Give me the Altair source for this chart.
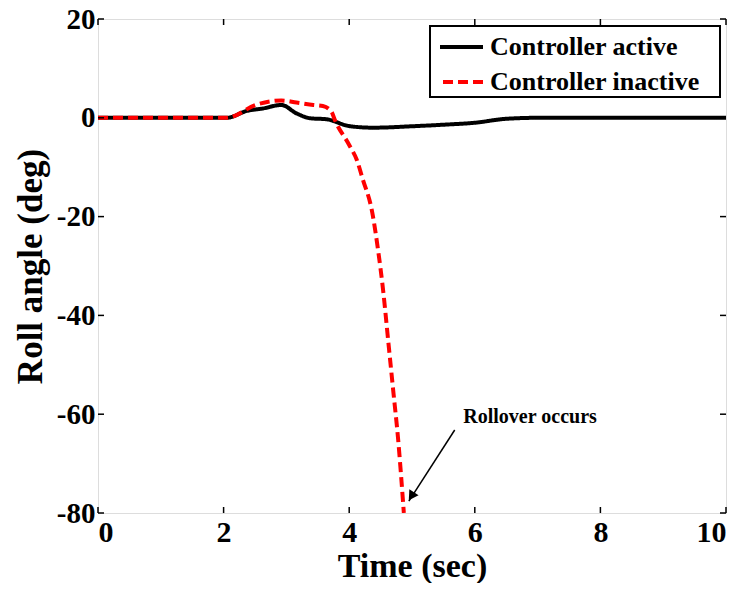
import altair as alt
import pandas as pd

# ---- data ----
t_active = [0, 2.05, 2.37, 2.63, 2.92, 3.16, 3.38, 3.64, 4.01, 4.38, 5.02, 5.5, 6.0, 6.5, 7, 8, 10]
roll_active = [0, 0, 1.4, 1.9, 2.6, 0.9, -0.1, -0.3, -1.7, -2.0, -1.7, -1.4, -1.0, -0.2, 0, 0, 0]

t_inactive = [0, 2.05, 2.53, 2.92, 3.16, 3.43, 3.58, 3.72, 3.77, 4.0, 4.12, 4.22, 4.36, 4.46,
              4.54, 4.62, 4.70, 4.78, 4.87]
roll_inactive = [0, 0, 2.7, 3.5, 3.1, 2.6, 2.4, 1.2, -0.4, -5.5, -8.5, -12.6, -18.7, -26.8,
                 -34.9, -45, -55.1, -65.2, -80]

series_names = ["Controller active", "Controller inactive"]
series_colors = ["black", "red"]
series_dash = [[1, 0], [10, 5]]

x_ticks = [0, 2, 4, 6, 8, 10]
y_ticks = [20, 0, -20, -40, -60, -80]

note_text = ["Rollover occurs"]
note_t = [6.88]
note_y = [-60.6]
arrow_t = [5.68]
arrow_y = [-63.2]
arrow_t2 = [4.95]
arrow_y2 = [-77.6]
head_t = [4.99]
head_y = [-76.6]

W, H = 628, 494
FONT = "Liberation Serif"
MINUS_FIX = "(datum.value < 0 ? '-' : '') + format(abs(datum.value), 'd')"

df = pd.concat([
    pd.DataFrame({"t": t_active, "roll": roll_active, "series": series_names[0]}),
    pd.DataFrame({"t": t_inactive, "roll": roll_inactive, "series": series_names[1]}),
])

xs = alt.Scale(domain=[0, 10], nice=False, zero=False)
ys = alt.Scale(domain=[-80, 20], nice=False, zero=False)
cs = alt.Scale(domain=series_names, range=series_colors)
ds = alt.Scale(domain=series_names, range=series_dash)

lines = alt.Chart(df).mark_line(strokeWidth=4, interpolate="monotone", clip=True).encode(
    x=alt.X("t:Q", scale=xs,
            axis=alt.Axis(values=x_ticks, title="Time (sec)", ticks=False, domain=False, grid=False,
                          labelExpr=MINUS_FIX,
                          labelFont=FONT, labelFontWeight="bold", labelFontSize=30, labelColor="black",
                          labelPadding=4, titleFont=FONT, titleFontWeight="bold", titleFontSize=34,
                          titleColor="black", titlePadding=2)),
    y=alt.Y("roll:Q", scale=ys,
            axis=alt.Axis(values=y_ticks, title="Roll angle (deg)", ticks=False, domain=False, grid=False,
                          labelExpr=MINUS_FIX,
                          labelFont=FONT, labelFontWeight="bold", labelFontSize=29, labelColor="black",
                          labelPadding=3, titleFont=FONT, titleFontWeight="bold", titleFontSize=35,
                          titleColor="black", titlePadding=8)),
    color=alt.Color("series:N", scale=cs, sort=series_names, legend=None),
    strokeDash=alt.StrokeDash("series:N", scale=ds, sort=series_names, legend=None),
)

tick_x = pd.DataFrame({"t": x_ticks})
tick_y = pd.DataFrame({"roll": y_ticks})
bottom_ticks = alt.Chart(tick_x).mark_rule(color="black", strokeWidth=1.5).encode(
    x=alt.X("t:Q", scale=xs), y=alt.value(H), y2=alt.value(H - 6))
top_ticks = alt.Chart(tick_x).mark_rule(color="black", strokeWidth=1.5).encode(
    x=alt.X("t:Q", scale=xs), y=alt.value(0), y2=alt.value(6))
left_ticks = alt.Chart(tick_y).mark_rule(color="black", strokeWidth=1.5).encode(
    y=alt.Y("roll:Q", scale=ys), x=alt.value(0), x2=alt.value(6))
right_ticks = alt.Chart(tick_y).mark_rule(color="black", strokeWidth=1.5).encode(
    y=alt.Y("roll:Q", scale=ys), x=alt.value(W), x2=alt.value(W - 6))

note_df = pd.DataFrame({"t": note_t, "roll": note_y, "label": note_text})
note = alt.Chart(note_df).mark_text(font=FONT, fontWeight="bold", fontSize=20, color="black").encode(
    x=alt.X("t:Q", scale=xs), y=alt.Y("roll:Q", scale=ys), text="label:N")

arrow_df = pd.DataFrame({"t": arrow_t, "roll": arrow_y, "t2": arrow_t2, "roll2": arrow_y2})
arrow = alt.Chart(arrow_df).mark_rule(color="black", strokeWidth=1.5).encode(
    x=alt.X("t:Q", scale=xs), y=alt.Y("roll:Q", scale=ys), x2="t2:Q", y2="roll2:Q")

head_df = pd.DataFrame({"t": head_t, "roll": head_y})
head = alt.Chart(head_df).mark_point(shape="triangle-up", filled=True, color="black", opacity=1,
                                     size=120, angle=213).encode(
    x=alt.X("t:Q", scale=xs), y=alt.Y("roll:Q", scale=ys))

# ---- legend (boxed, top-right inside the plot) ----
LEG_X0, LEG_X1, LEG_Y0, LEG_Y1 = 332, 622, 7, 78
ROW_Y = [28, 63]
SYM_X0 = [342, 345]
SYM_X1 = 385
LAB_X = 392

legend_box = alt.Chart(pd.DataFrame({"k": [0]})).mark_rect(
    fill="white", stroke="black", strokeWidth=2).encode(
    x=alt.value(LEG_X0), x2=alt.value(LEG_X1), y=alt.value(LEG_Y0), y2=alt.value(LEG_Y1))

legend_layers = [legend_box]
for i, name in enumerate(series_names):
    row = pd.DataFrame({"series": [name]})
    legend_layers.append(
        alt.Chart(row).mark_rule(strokeWidth=4).encode(
            x=alt.value(SYM_X0[i]), x2=alt.value(SYM_X1), y=alt.value(ROW_Y[i]),
            color=alt.Color("series:N", scale=cs, legend=None),
            strokeDash=alt.StrokeDash("series:N", scale=ds, legend=None)))
    legend_layers.append(
        alt.Chart(row).mark_text(font=FONT, fontWeight="bold", fontSize=26, color="black",
                                 align="left", baseline="middle").encode(
            x=alt.value(LAB_X), y=alt.value(ROW_Y[i]), text="series:N"))

chart = alt.layer(lines, bottom_ticks, top_ticks, left_ticks, right_ticks, arrow, head, note,
                  *legend_layers).properties(
    width=W, height=H,
    autosize=alt.AutoSizeParams(type="none"),
    padding={"left": 90, "top": 11, "right": 9, "bottom": 70},
).configure_view(stroke="black", strokeWidth=2).configure(background="white")

chart.save("out.html", embed_options={"renderer": "svg", "actions": False})
